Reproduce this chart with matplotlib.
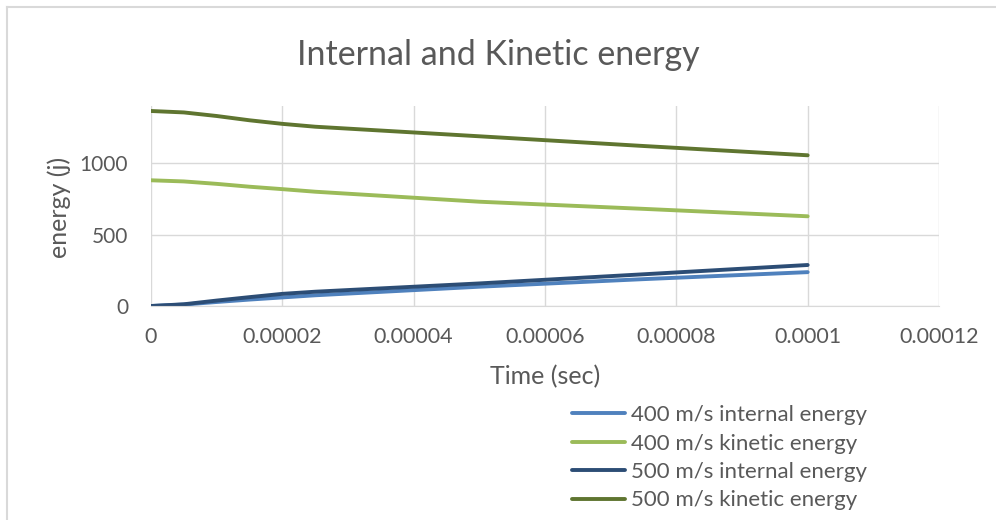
import numpy as np
import matplotlib
matplotlib.use("Agg")
import matplotlib.pyplot as plt
from matplotlib.lines import Line2D

plt.rcParams['font.family'] = ['Lato', 'DejaVu Sans']

# time points (sec)
time = [0, 0.000005, 0.00001, 0.000015, 0.00002, 0.000025, 0.00005, 0.000075, 0.0001]

# energy series (j)
int_400 = [0, 10, 28, 45, 60, 75, 135, 188, 237]
kin_400 = [880, 872, 855, 835, 818, 800, 730, 680, 628]
int_500 = [0, 12, 38, 62, 85, 100, 158, 222, 287]
kin_500 = [1365, 1355, 1330, 1300, 1275, 1255, 1188, 1120, 1055]

labels = ['400 m/s internal energy', '400 m/s kinetic energy',
          '500 m/s internal energy', '500 m/s kinetic energy']
colors = ['#4F81BD', '#9BBB59', '#2C4D75', '#5F7530']

x_ticks = [0, 0.00002, 0.00004, 0.00006, 0.00008, 0.0001, 0.00012]
x_tick_labels = ['0', '0.00002', '0.00004', '0.00006', '0.00008', '0.0001', '0.00012']
y_ticks = [0, 500, 1000]

txt = '#595959'

fig = plt.figure(figsize=(9.96, 5.2), dpi=100)
ax = fig.add_axes([151/996, 1 - 306/520, (939 - 151)/996, (306 - 106)/520])

for ys, lab, c in zip([int_400, kin_400, int_500, kin_500], labels, colors):
    ax.plot(time, ys, color=c, lw=2.8, label=lab, solid_capstyle='round')

ax.set_xlim(0, 0.00012)
ax.set_ylim(0, 1400)
ax.set_xticks(x_ticks)
ax.set_xticklabels(x_tick_labels)
ax.set_yticks(y_ticks)
ax.grid(True, color='#D9D9D9', lw=1)
ax.set_axisbelow(True)
for s in ['top', 'right', 'left']:
    ax.spines[s].set_visible(False)
ax.spines['bottom'].set_color('#D9D9D9')
ax.tick_params(length=0, labelsize=15.5, labelcolor=txt, pad=15)
ax.tick_params(axis='y', labelsize=15, pad=16.5)

ax.set_xlabel('Time (sec)', fontsize=18, color=txt, labelpad=13)
fig.text(59/996, 1 - 207/520, 'energy (j)', rotation=90, ha='center', va='center',
         fontsize=18, color=txt)
fig.suptitle('Internal and Kinetic energy', fontsize=24.5, color=txt, y=0.925)

leg = fig.legend(loc='upper left', bbox_to_anchor=(561/996, 1 - 394/520),
                 frameon=False, fontsize=16, handlelength=2.4, handletextpad=0.25,
                 labelspacing=0.38, labelcolor=txt, borderpad=0)

# outer chart border (top and left edges visible)
fig.add_artist(Line2D([6.5/996, 1], [1 - 6.5/520] * 2, transform=fig.transFigure,
                      color='#D9D9D9', lw=1.5))
fig.add_artist(Line2D([6.5/996] * 2, [0, 1 - 6.5/520], transform=fig.transFigure,
                      color='#D9D9D9', lw=1.5))

fig.savefig('out.png', dpi=100)
